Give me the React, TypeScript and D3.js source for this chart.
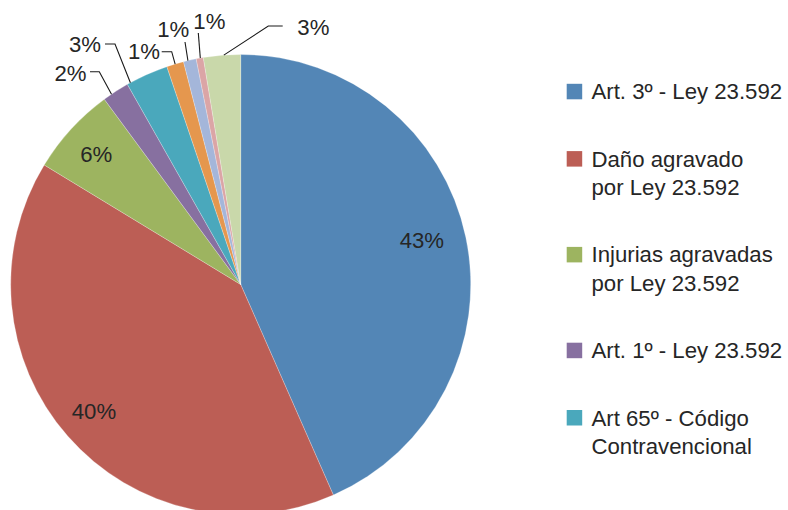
import React from "react";
import * as d3 from "d3";

// ---- data ----
const values: number[] = [43.4, 40.3, 6.2, 1.9, 3.0, 1.2, 0.9, 0.5, 2.6];
const colors: string[] = [
  "#5386B6", "#BC5E55", "#9DB460", "#8770A0", "#4AA8BC",
  "#E5974E", "#A4B6DA", "#DBA5A6", "#C9D8AA",
];
const legendLabels: string[][] = [
  ["Art. 3º - Ley 23.592"],
  ["Daño agravado", "por Ley 23.592"],
  ["Injurias agravadas", "por Ley 23.592"],
  ["Art. 1º - Ley 23.592"],
  ["Art 65º - Código", "Contravencional"],
];

// ---- layout (styling, not data) ----
const W = 788, H = 510;
const CX = 240.7, CY = 284.5, R = 230;
const FONT = "'Liberation Sans', Arial, sans-serif";
const FS = 22.2;
const TEXT = "#262626";

// inside labels: radial factor + small nudge
const insideLayout: Record<number, { rf: number; dy: number }> = {
  0: { rf: 0.805, dy: -6 },
  1: { rf: 0.848, dy: -2 },
  2: { rf: 0.852, dy: 2 },
};
// outside labels with leader lines
const outsideLayout: Record<number, { t: number; elbow: [number, number]; end: [number, number]; tx: number; ty: number; anchor: string }> = {
  3: { t: 0.32, elbow: [99.3, 71.7], end: [90, 71.7], tx: 86.5, ty: 81, anchor: "end" },
  4: { t: 0.08, elbow: [115, 44], end: [105, 44], tx: 101, ty: 51.7, anchor: "end" },
  5: { t: 0.5, elbow: [171.7, 51.7], end: [161.7, 51.7], tx: 160, ty: 59.3, anchor: "end" },
  6: { t: 0.35, elbow: [185, 42], end: [185, 42], tx: 189.3, ty: 37.3, anchor: "end" },
  7: { t: 0.58, elbow: [198.3, 33], end: [198.3, 33], tx: 193.3, ty: 29.3, anchor: "start" },
  8: { t: 0.55, elbow: [268.3, 26], end: [282.7, 26], tx: 297.3, ty: 35, anchor: "start" },
};

const LEG_X = 566.7, LEG_TX = 591.5, LEG_SQ = 15.5;
const LEG_Y0 = 99.3, LEG_LH = 28.5, LEG_GAP = 38.8;

export default function App() {
  const total = d3.sum(values);
  const pie = d3.pie<number>().sort(null).value((d) => d).startAngle(0).endAngle(2 * Math.PI);
  const arcs = pie(values);
  const arcGen = d3.arc<d3.PieArcDatum<number>>().innerRadius(0).outerRadius(R);
  const fmt = (v: number) => `${Math.round((v / total) * 100)}%`;

  const polar = (a: number, r: number): [number, number] => [
    CX + r * Math.sin(a),
    CY - r * Math.cos(a),
  ];

  // legend baselines
  const legendY: number[] = [];
  let y = LEG_Y0;
  legendLabels.forEach((lines) => {
    legendY.push(y);
    y += lines.length * LEG_LH + LEG_GAP;
  });

  return (
    <svg
      width={W}
      height={H}
      style={{ position: "absolute", left: 0, top: 0, background: "#fff" }}
      fontFamily={FONT}
    >
      <g transform={`translate(${CX},${CY})`}>
        {arcs.map((a, i) => (
          <path key={i} d={arcGen(a) || ""} fill={colors[i]} stroke="#ffffff" strokeWidth={0.4} strokeOpacity={0.6} />
        ))}
      </g>
      {arcs.map((a, i) => {
        const inL = insideLayout[i];
        if (inL) {
          const mid = (a.startAngle + a.endAngle) / 2;
          const [x, yy] = polar(mid, R * inL.rf);
          return (
            <text key={"l" + i} x={x} y={yy + inL.dy} dy="0.36em" textAnchor="middle" fontSize={FS} fill={TEXT}>
              {fmt(a.value)}
            </text>
          );
        }
        const o = outsideLayout[i];
        if (!o) return null;
        const ang = a.startAngle + o.t * (a.endAngle - a.startAngle);
        const [px, py] = polar(ang, R);
        const path = d3.path();
        path.moveTo(px, py);
        path.lineTo(o.elbow[0], o.elbow[1]);
        path.lineTo(o.end[0], o.end[1]);
        return (
          <g key={"o" + i}>
            <path d={path.toString()} fill="none" stroke="#1a1a1a" strokeWidth={1.1} />
            <text x={o.tx} y={o.ty} textAnchor={o.anchor} fontSize={FS} fill={TEXT}>
              {fmt(a.value)}
            </text>
          </g>
        );
      })}
      {legendLabels.map((lines, i) => (
        <g key={"lg" + i}>
          <rect x={LEG_X} y={legendY[i] - LEG_SQ} width={LEG_SQ} height={LEG_SQ} fill={colors[i]} />
          <text x={LEG_TX} y={legendY[i]} fontSize={FS} fill={TEXT}>
            {lines.map((ln, j) => (
              <tspan key={j} x={LEG_TX} y={legendY[i] + j * LEG_LH}>
                {ln}
              </tspan>
            ))}
          </text>
        </g>
      ))}
    </svg>
  );
}
